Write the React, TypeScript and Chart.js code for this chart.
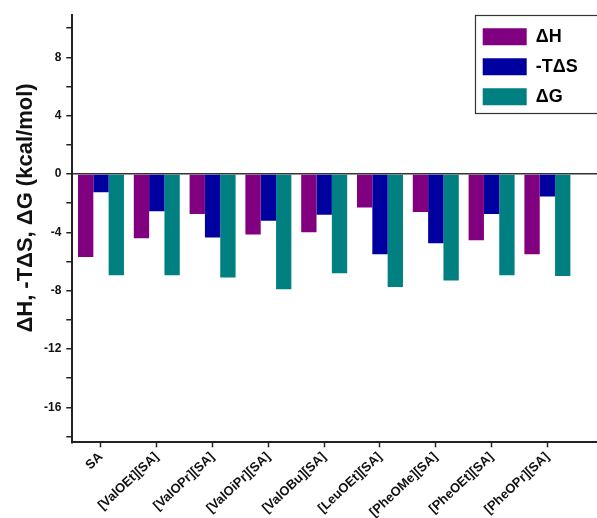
import React, { useEffect, useRef } from 'react';
import { Chart, registerables } from 'chart.js';

Chart.register(...registerables);

// ---- data ----
const categories = [
  'SA',
  '[ValOEt][SA]',
  '[ValOPr][SA]',
  '[ValOiPr][SA]',
  '[ValOBu][SA]',
  '[LeuOEt][SA]',
  '[PheOMe][SA]',
  '[PheOEt][SA]',
  '[PheOPr][SA]',
];
const deltaH = [-5.7, -4.4, -2.75, -4.15, -4.0, -2.3, -2.6, -4.55, -5.5];
const minusTdS = [-1.25, -2.55, -4.35, -3.2, -2.8, -5.5, -4.75, -2.75, -1.55];
const deltaG = [-6.95, -6.95, -7.1, -7.9, -6.8, -7.75, -7.3, -6.95, -7.0];
const seriesLabels = ['ΔH', '-TΔS', 'ΔG'];
const seriesColors = ['#800080', '#0000A0', '#008080'];
const yAxisTitle = 'ΔH, -TΔS, ΔG (kcal/mol)';

const FONT = '"Liberation Sans", Arial, Helvetica, sans-serif';

const legendFramePlugin = {
  id: 'legendFrame',
  afterLayout(chart: any) {
    const lg = chart.legend;
    if (!lg) return;
    lg.left = 470.7;
    lg.top = 15.8;
    lg.right = lg.left + lg.width;
    lg.bottom = lg.top + lg.height;
  },
  afterDraw(chart: any) {
    const ctx = chart.ctx;
    ctx.save();
    ctx.strokeStyle = '#333';
    ctx.lineWidth = 1.2;
    ctx.strokeRect(475.5, 15.5, 126, 98);
    ctx.restore();
  },
};

const yTitlePlugin = {
  id: 'yTitle',
  afterDraw(chart: any) {
    const ctx = chart.ctx;
    ctx.save();
    ctx.translate(32, 208);
    ctx.rotate(-Math.PI / 2);
    ctx.font = `bold 22px ${FONT}`;
    ctx.fillStyle = '#111';
    ctx.textAlign = 'center';
    ctx.textBaseline = 'alphabetic';
    ctx.fillText(yAxisTitle, 0, 0);
    ctx.restore();
  },
};

export default function App() {
  const ref = useRef<HTMLCanvasElement>(null);
  useEffect(() => {
    const canvas = ref.current!;
    const series = [deltaH, minusTdS, deltaG];
    const chart = new Chart(canvas, {
      type: 'bar',
      data: {
        datasets: series.map((vals, k) => ({
          label: seriesLabels[k],
          data: vals.map((v, i) => ({ x: i, y: v })),
          backgroundColor: seriesColors[k],
          borderWidth: 0,
          categoryPercentage: 0.824,
          barPercentage: 1,
        })),
      },
      options: {
        responsive: false,
        animation: false,
        layout: { padding: { top: 15, left: 0, right: 0, bottom: 0 } },
        plugins: {
          legend: {
            position: 'chartArea',
            align: 'start',
            labels: {
              boxWidth: 44,
              boxHeight: 17,
              padding: 12,
              color: '#000',
              font: { family: FONT, size: 18, weight: 'bold' },
            },
          },
          tooltip: { enabled: false },
        },
        scales: {
          x: {
            type: 'linear',
            offset: false,
            min: -0.514,
            max: 8.889,
            afterFit: (s: any) => {
              s.height = 75.7;
            },
            grid: {
              offset: false,
              drawOnChartArea: false,
              drawTicks: true,
              tickLength: 5,
              tickColor: '#222',
              tickWidth: 1.5,
            },
            border: { display: true, color: '#222', width: 2 },
            ticks: {
              stepSize: 1,
              includeBounds: false,
              autoSkip: false,
              minRotation: 43,
              maxRotation: 43,
              padding: 2,
              color: '#111',
              font: { family: FONT, size: 13, weight: 'bold' },
              callback: (v: any) => categories[v] ?? '',
            },
          },
          y: {
            min: -18.4,
            max: 10.9,
            afterFit: (s: any) => {
              s.width = 72.3;
            },
            grid: {
              color: (c: any) => (c.tick && c.tick.value === 0 ? '#333' : 'rgba(0,0,0,0)'),
              lineWidth: 1.5,
              tickColor: '#222',
              tickWidth: 1.5,
              tickLength: 6,
              drawTicks: true,
            },
            border: { display: true, color: '#222', width: 2 },
            ticks: {
              stepSize: 2,
              includeBounds: false,
              padding: 5,
              color: '#111',
              font: { family: FONT, size: 12, weight: 'bold' },
              callback: (v: any) => (v % 4 === 0 ? String(v) : ''),
            },
          },
        },
      },
      plugins: [legendFramePlugin, yTitlePlugin],
    } as any);
    return () => chart.destroy();
  }, []);
  return (
    <div style={{ position: 'fixed', left: 0, top: 0, width: 597, height: 518, background: '#fff' }}>
      <canvas ref={ref} width={597} height={518} />
    </div>
  );
}
